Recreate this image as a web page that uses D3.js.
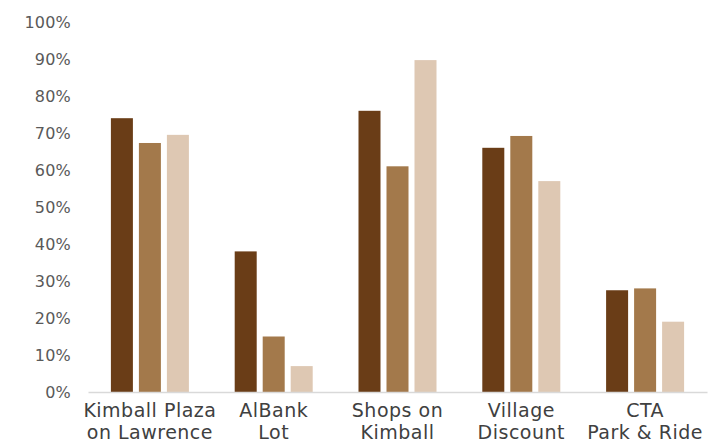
<!DOCTYPE html>
<html>
<head>
<meta charset="utf-8">
<script src="https://cdn.jsdelivr.net/npm/d3@7"></script>
<style>
  html, body { margin: 0; padding: 0; background: #fff; }
  svg { display: block; }
  .tick-label { font-family: "DejaVu Sans", sans-serif; font-size: 16px; fill: #595959; letter-spacing: 0.2px; }
  .cat-label { font-family: "DejaVu Sans", sans-serif; font-size: 19px; fill: #404040; letter-spacing: 0.5px; }
</style>
</head>
<body>
<svg id="chart" width="712" height="444"></svg>
<script>
// Categories (two-line labels) and the three series, in percent
const categories = [
  ["Kimball Plaza", "on Lawrence"],
  ["AlBank", "Lot"],
  ["Shops on", "Kimball"],
  ["Village", "Discount"],
  ["CTA", "Park & Ride"]
];
const seriesA = [74, 38, 76, 66, 27.5];
const seriesB = [67.3, 15, 61, 69.2, 28];
const seriesC = [69.5, 7, 89.7, 57, 19];
const seriesColors = ["#6A3D17", "#A3794B", "#DEC8B3"];
const yTicks = [0, 10, 20, 30, 40, 50, 60, 70, 80, 90, 100];

const svg = d3.select("#chart");
const margin = { left: 88, right: 5, top: 22, bottom: 52 };
const width = 712, height = 444;

const x = d3.scaleBand()
  .domain(d3.range(categories.length))
  .range([margin.left, width - margin.right])
  .padding(0);

const y = d3.scaleLinear()
  .domain([0, 100])
  .range([height - margin.bottom, margin.top]);

// bars inside each category band: 22px bars, 6px gaps
const groupWidth = 78;
const inner = d3.scaleBand()
  .domain([0, 1, 2])
  .range([0, groupWidth])
  .paddingInner(6 / 28)
  .paddingOuter(0);
const groupOffset = (x.bandwidth() - groupWidth) / 2;

const allSeries = [seriesA, seriesB, seriesC];

// y-axis tick labels (no line, no grid)
const yAxis = d3.axisLeft(y)
  .tickValues(yTicks)
  .tickFormat(d => d + "%")
  .tickSize(0)
  .tickPadding(0);
const yg = svg.append("g")
  .attr("transform", `translate(71,0)`)
  .call(yAxis);
yg.select(".domain").remove();
yg.selectAll("text").attr("class", "tick-label").attr("fill", null).attr("font-size", null).attr("font-family", null);

// bars
allSeries.forEach((vals, s) => {
  svg.append("g")
    .selectAll("rect")
    .data(vals)
    .join("rect")
    .attr("x", (d, i) => x(i) + groupOffset + inner(s))
    .attr("y", d => y(d))
    .attr("width", inner.bandwidth())
    .attr("height", d => y(0) - y(d))
    .attr("fill", seriesColors[s]);
});

// x-axis baseline
const xAxis = d3.axisBottom(x).tickSize(0).tickFormat("");
const xg = svg.append("g")
  .attr("transform", `translate(0,${y(0)})`)
  .call(xAxis);
xg.select(".domain").attr("stroke", "#d9d9d9").attr("stroke-width", 1.5);

// category labels, two lines each
const labels = svg.append("g")
  .selectAll("text")
  .data(categories)
  .join("text")
  .attr("class", "cat-label")
  .attr("text-anchor", "middle")
  .attr("x", (d, i) => x(i) + x.bandwidth() / 2)
  .attr("y", y(0) + 25);
labels.selectAll("tspan")
  .data(d => d)
  .join("tspan")
  .attr("x", function() { return this.parentNode.getAttribute("x"); })
  .attr("dy", (d, j) => j === 0 ? 0 : 22)
  .text(d => d);
</script>
</body>
</html>
